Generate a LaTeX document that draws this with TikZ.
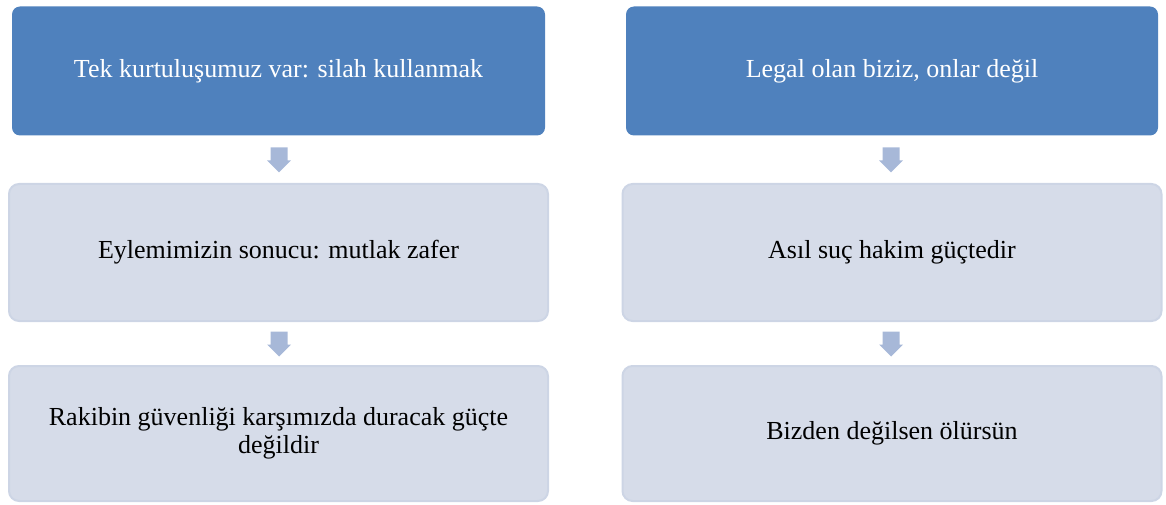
\documentclass[tikz,border=0pt]{standalone}
\usetikzlibrary{calc}
\usepackage{fontspec}
\setmainfont{Liberation Serif}
\definecolor{darkbox}{RGB}{79,129,189}
\definecolor{lightbox}{RGB}{214,220,233}
\definecolor{lightedge}{RGB}{205,213,229}
\definecolor{arrowc}{RGB}{167,184,216}
\begin{document}
\begin{tikzpicture}[x=1pt,y=-1pt,
  topbox/.style={fill=darkbox, draw=none, rounded corners=8pt, text=white, align=center, font=\rmfamily\fontsize{26}{28}\selectfont, inner sep=0pt},
  subbox/.style={fill=lightbox, draw=lightedge, line width=2pt, rounded corners=10pt, text=black, align=center, font=\rmfamily\fontsize{26}{28}\selectfont, inner sep=0pt},
  downarrow/.style={fill=arrowc, draw=none}]
\useasboundingbox (0,0) rectangle (1166,505);
% left column
\node[topbox, minimum width=533pt, minimum height=129pt] (l1) at (278.5,71) {\raisebox{-2pt}{Tek kurtuluşumuz var: silah kullanmak}};
\node[subbox, minimum width=539pt, minimum height=137pt] (l2) at (278.5,252.5) {\raisebox{-3pt}{Eylemimizin sonucu: mutlak zafer}};
\node[subbox, minimum width=539pt, minimum height=135pt] (l3) at (278.5,433.5) {\raisebox{-3pt}{Rakibin güvenliği karşımızda duracak güçte}\\\raisebox{-3pt}{değildir}};
% right column
\node[topbox, minimum width=532pt, minimum height=129pt] (r1) at (892,71) {\raisebox{-2pt}{Legal olan biziz, onlar değil}};
\node[subbox, minimum width=539pt, minimum height=137pt] (r2) at (892,252.5) {\raisebox{-3pt}{Asıl suç hakim güçtedir}};
\node[subbox, minimum width=539pt, minimum height=135pt] (r3) at (892,433.5) {\raisebox{-3pt}{Bizden değilsen ölürsün}};
% arrows
\foreach \a/\b/\cx in {l1/l2/279, l2/l3/279, r1/r2/891, r2/r3/891}{
  \coordinate (mid) at ($(\a.south)!0.5!(\b.north)$);
  \coordinate (m) at (\cx,0 |- mid);
  \fill[downarrow] (m) ++(-8.5,-12) -- ++(17,0) -- ++(0,13) -- ++(3.5,0) -- ++(-12,12) -- ++(-12,-12) -- ++(3.5,0) -- cycle;
}
\end{tikzpicture}
\end{document}
